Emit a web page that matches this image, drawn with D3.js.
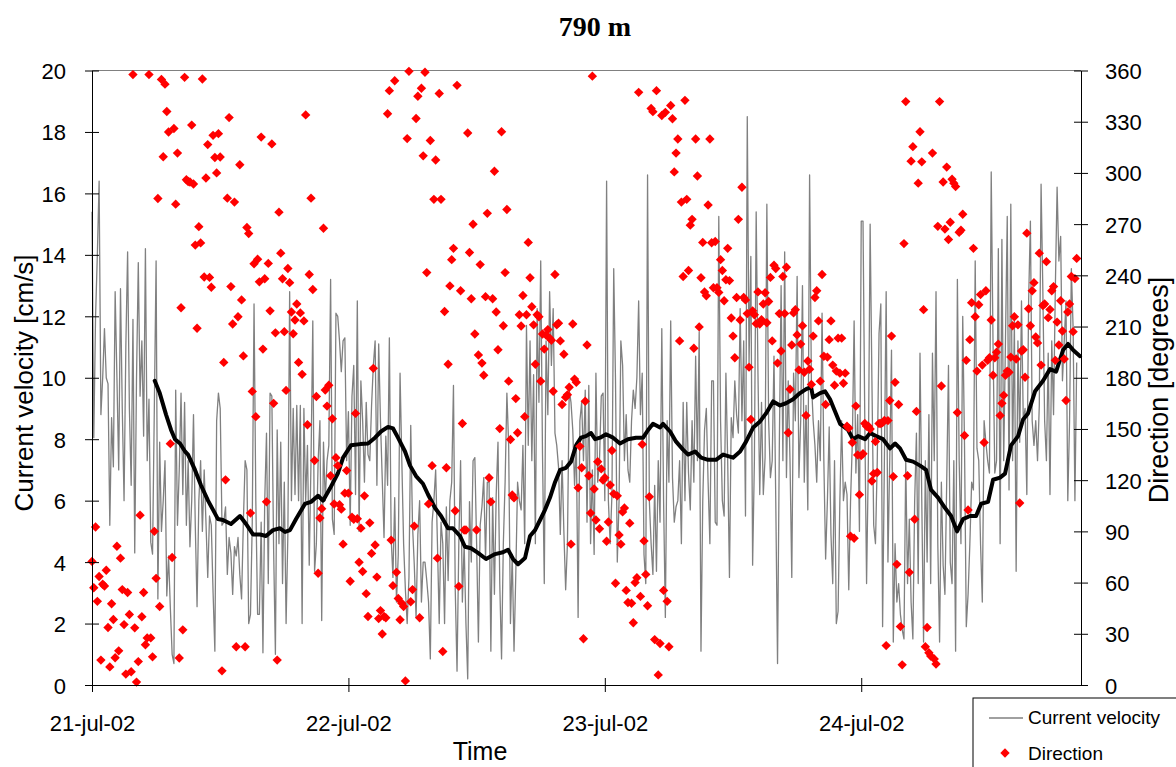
<!DOCTYPE html>
<html><head><meta charset="utf-8">
<script src="https://cdn.jsdelivr.net/npm/d3@7"></script>
<style>body{margin:0;background:#fff;} svg{display:block;}</style>
</head><body>
<svg id="chart" width="1176" height="767"></svg>
<script>
const chartTitle = "790 m";
const startTime = Date.UTC(2002, 6, 21, 0, 0);
const endHours = 92.57;
const stepMinutes = 10;

const velocity = [
15.4,8.05,12,14,16.4,8.8,10,11.6,10,9.8,5.2,8.7,7.1,12.8,10,7.0,12.9,9,6.0,11,14.1,9,6.5,11.9,4.3,10,13.75,9.4,11.2,8.1,14.2,7.3,9.3,4.65,4.26,9,13.8,2.8,7.9,5,6.0,7.3,2.9,4.2,2.5,1.0,0.7,9.6,5.2,7,9.5,6.2,9.2,5.2,7.3,4.5,6,8.8,5.2,2.55,6,7.3,5.0,7,5.3,3.5,5.5,5.2,3,1.1,8.6,
9.5,9.0,5.2,5.3,5.8,3.6,4.8,4.3,2.95,4.5,4.2,4.8,3.6,2.8,5.3,7.3,7.0,2.0,2.3,5.3,12.4,6.0,2.3,2.3,5.3,1.05,6.0,8.2,3.3,9.5,9.4,4.4,1.0,8.3,4.6,7.9,3.3,6.6,2.0,4.9,12.8,6.0,9.0,6.2,9.1,6.0,9.1,2.0,9.0,6.0,7.8,3.9,7.3,11.85,3.7,4.6,7.3,8.6,2.1,7.9,6.0,7.3,7.8,13.2,5.4,4.9,12.1,12.0,11.2,10.2,
11.2,11.3,7.3,8.9,5.2,9.4,10.4,6.2,12.5,5.0,9.9,8.6,6.6,9.2,7.5,7.3,9.1,10.4,11.2,6.5,11.1,8.6,6.7,4.8,8.1,6.5,11.3,4.8,3.5,6.1,2.7,4.25,10.15,7.3,4.6,3.1,2.0,3.5,8.45,5.2,3.9,2.2,4.9,6.0,2.7,4.0,4.0,3.4,2.7,0.85,5.3,6.0,7.0,4.6,2.0,5.3,4.6,2.0,5.8,3.4,6.0,6.6,9.75,3.1,0.45,4.6,7.3,2.7,4.6,2.0,
0.2,5.97,4.0,7.3,7.4,4.6,1.4,5.2,5.8,6.75,4.1,6.6,6.6,1.1,6.1,2.95,6.2,7.9,3.3,0.85,4.6,6.6,9.5,7.8,2.0,4.25,1.1,3.6,6.6,6.0,5.7,7.8,4.6,11.7,7.8,11.2,7.3,10.1,4.6,12.25,9.2,13.8,7.5,3.3,11.2,8.8,12.8,10.4,12.25,8.2,7.8,7.1,4.9,7.3,5.0,3.1,4.6,9.6,9.2,8.3,6.5,7.9,2.2,8.6,9.2,7.3,9.6,5.3,9.75,4.6,
7.0,4.25,10.15,6.6,7.3,9.4,9.5,6.0,16.4,6.0,4.6,6.2,13.55,9.9,4.0,6.0,11.2,10.4,7.3,8.8,7.0,6.6,8.6,9.6,9.0,10.0,12.5,8.8,10.15,4.25,3.3,16.6,6.0,4.6,3.6,6.5,3.7,7.3,5.3,11.6,6.0,2.2,8.6,6.6,11.85,6.75,5.3,5.8,6.0,7.3,4.6,9.2,6.0,9.2,6.9,5.7,8.6,6.6,10.7,7.3,11.5,1.1,6.0,8.3,9.0,6.6,4.6,9.9,9.9,5.3,
5.2,15.25,8.6,6.0,5.5,10.15,7.3,3.5,8.7,8.05,9.9,8.8,8.2,12.25,8.6,11.2,5.5,18.5,10.5,13.95,3.9,7.3,15.4,10.15,6.2,9.2,6.2,7.4,15.65,8.6,6.75,7.3,10.7,6.0,0.7,7.8,13.0,7.3,14.1,6.75,9.9,7.3,3.5,10.15,8.6,13.3,6.75,8.6,13.0,6.6,9.1,5.7,16.6,9.9,8.6,7.8,6.6,8.6,7.3,12.1,7.3,4.1,6.0,8.4,4.9,3.3,7.3,2.0,2.4,6.0,
8.6,6.0,6.6,6.2,3.1,6.0,7.9,11.85,6.9,8.8,5.0,15.1,15.1,8.6,3.3,7.3,15.0,9.9,5.2,4.6,7.3,11.45,12.4,1.9,7.3,12.8,4.0,7.3,10.9,1.4,4.6,2.7,3.3,2.3,1.8,1.5,7.3,3.3,5.4,2.7,1.5,5.97,8.2,3.3,10.8,6.0,1.4,7.3,4.0,8.8,3.3,10.8,7.3,12.8,4.6,1.4,6.6,3.9,2.95,6.6,10.4,4.0,3.3,7.3,1.1,13.2,7.3,4.6,12.0,
7.8,1.9,2.95,4.6,6.6,6.35,13.8,7.7,7.3,4.6,2.7,8.6,7.9,7.3,6.9,16.7,11.2,6.9,7.3,14.2,4.6,14.5,7.3,11.2,15.25,6.35,15.65,7.3,11.85,3.7,11.2,7.9,12.5,8.6,9.0,6.2,12.5,15.1,8.6,7.8,8.6,7.3,9.1,16.3,12.8,8.6,7.3,10.8,6.2,11.2,8.8,12.9,16.2,13.8,14.6,9.9,11.2,12.5,6.0,8.6,13.55,11.6,6.0,10.5
];

const direction = [
72.4,57,92.6,49,63.6,14.6,59,58,67.2,33.7,10.6,47.6,38.4,16,81.3,20,74.3,55.9,35.4,6.4,54.2,41.3,7.8,357.6,33.5,1.7,13.7,99.5,40,54.2,23.6,27.6,357.6,27.6,16.5,90,62.5,285,46,354.8,309.5,352,336,324,141.4,74.7,326,281.7,311.6,15.8,221,32.3,356,296,295,294.7,328,293.5,257.7,209,268.5,259,355,239,297,316.6,238.8,233,322,309,300,
323,309.3,8.3,189,120.2,285.2,332.4,233.4,211.5,282.9,22.4,215.7,304.8,225.6,192.8,22.4,268,264.5,100.7,172,246.8,157.2,249.4,236.2,321,196.8,238,107.3,247,219.2,317,165,206.3,14.6,277,253,238,207,172.6,244,235.7,218.5,205.8,213.8,223.2,189,218,182,213.3,334,152.5,240.5,285.2,231.7,131.5,169,65.5,97.8,103.3,267.6,172.8,163.4,175.6,122.6,156,106,133.2,128.5,105.6,
103,82.5,112.4,125.6,112.4,60.8,98.3,97.1,159.1,97.4,71.9,91.9,66.5,110.8,53.5,40.1,95,77.1,185.5,82,63.2,38.9,43.6,29.9,40.1,39.4,334.7,348.2,84.9,58.2,354,66,50.7,38.2,47.9,46,2.4,320.1,359.5,48.8,55.9,93.1,331.9,344.9,39.4,349.6,310,359,241.6,106.1,319,128.5,284.5,307.6,74.3,346.5,284.5,19.6,218.8,127.3,187.9,233.8,249.2,255.8,102.1,351.3,57.8,231,153.2,90.8,
90.8,323.4,253.4,226.3,269.9,205.6,90.8,193.3,246.3,188.6,181.5,227.5,276.3,121.4,107.3,226.3,301,218.5,196.4,150.2,324.1,210.5,241.6,278.6,178,143.8,111.3,109.6,167.8,147.8,216.9,210.3,228.2,157.2,216.9,259.3,238.6,221.6,211,187.9,216.9,215.7,178,205.6,196.8,205,208.2,203.2,202,172.1,240.5,211,212,201.6,164.3,193.8,168.6,170,174.4,82.5,211.5,179.2,177.3,115.5,139.8,127.3,27.1,166.2,199.2,122.6,
100.7,356.7,114.8,96.7,130.8,91.5,126.6,120,121.4,84.2,95.5,117.2,137.4,112,59.6,110.8,87.9,82.5,101.4,103.7,55.4,48.3,94.8,47.9,36.5,60,62.9,347.2,51.9,141,84.4,64.8,46.4,110.3,337.8,335.9,26.6,348.2,5.9,24.3,333.6,55.4,335.5,49,22.4,339.5,331.7,300.6,311.6,319.9,201.6,282.9,239.3,342.5,284.5,242.8,269.4,272.8,197.3,319.9,298.2,209.8,238.6,259.3,230.3,228,281.2,319.9,259.1,232.7,
259.8,232.7,230,249.2,242.8,225.1,237.4,255.8,236.9,215,204.4,191.7,227,272.8,213.8,291.6,227,225.6,217.6,186.2,155.6,219.2,216.9,211.7,230.3,211.5,214,223.2,229.8,212.2,224.7,238.8,201.6,245.9,244,188.6,217.6,195.7,239.3,217.6,244.7,147.8,173.3,199.2,218,219.9,205.1,184.6,199.7,210.5,183.2,157.9,189.8,185,176.1,204.4,227,231,213.3,178,240.5,192.6,164.3,192.1,202.3,213.3,187.4,175.6,183.9,203.2,182.7,
203.2,176.8,182.7,151.6,150.5,87.2,142.1,86,163.4,134.8,111.5,134.4,135.5,153.2,151.6,151.6,150,119.5,123.8,142.6,124.5,153.2,153.2,153.7,155,23.1,154.9,166.7,204.4,122.1,177.3,70.7,164.3,34.2,11.8,258.6,341.8,122.6,66,306.9,315.4,97.1,160.3,294,324.1,306.5,219.9,22.4,33.7,18.9,17,311.6,15.3,12.3,268.7,341.8,175.2,294.7,267.1,303.4,261,271.1,296.3,294,292,159.6,265.2,266.4,275.8,
146.2,190.2,102.5,202.3,224,255.8,215.7,183.9,222.8,228.7,187.4,142.1,231,190.2,191.7,213.8,181.5,191.7,195,199.7,157.9,165,169.7,181.5,183.9,183.2,192.1,210.5,215.7,191,211,106.6,195.7,196.4,180.3,264.7,220.4,210.5,231,235.7,203.9,200.4,253,187.4,222.3,223.2,248,215.2,220,231,233.4,190.2,212.6,199.2,225.1,207.4,191,166.7,218.5,223.2,239.3,207,238.1,249.9
];

const maHours = [5.87,6.34,6.93,7.40,7.77,8.24,8.71,8.99,9.64,10.20,10.86,11.33,11.79,12.26,13.01,13.85,14.42,15.07,15.73,16.29,16.94,17.60,18.07,18.53,19.10,19.94,20.50,21.16,21.62,22.28,23.03,23.50,24.24,25.09,25.84,26.49,27.05,27.71,28.18,28.64,29.30,29.77,30.33,30.98,31.45,32.11,32.67,33.32,33.79,34.45,34.91,35.48,36.13,36.88,37.73,38.47,38.94,39.41,39.88,40.53,41.00,41.47,41.94,42.40,42.87,43.34,43.81,44.37,44.84,45.31,45.77,46.24,46.71,47.09,47.56,48.11,48.77,49.42,50.17,50.92,51.58,52.05,52.51,53.17,53.45,54.11,54.67,55.32,55.79,56.45,57.01,57.66,58.41,59.07,60.00,60.66,61.22,61.88,62.53,63.09,63.75,64.40,64.96,65.62,66.27,66.84,67.30,67.49,68.15,68.61,69.08,69.55,70.02,70.77,71.23,71.70,72.36,72.83,73.39,74.04,74.70,75.17,75.63,76.20,76.85,77.51,78.07,78.54,79.19,79.85,80.41,80.97,81.53,82.18,82.75,83.22,83.87,84.34,84.99,85.46,86.02,86.68,87.15,87.61,88.27,89.02,89.67,90.24,90.89,91.36,91.83,92.48];
const maVelocity = [9.9,9.5,8.8,8.3,8.0,7.86,7.6,7.5,7.0,6.5,6.0,5.7,5.4,5.37,5.24,5.5,5.24,4.9,4.9,4.85,5.04,5.1,4.98,5.04,5.4,5.9,5.96,6.16,6.0,6.4,6.9,7.4,7.8,7.84,7.86,8.05,8.25,8.4,8.35,8.05,7.6,7.14,6.8,6.55,6.2,5.76,5.5,5.1,5.1,4.85,4.5,4.45,4.3,4.1,4.26,4.32,4.4,4.1,3.93,4.13,4.85,5.04,5.37,5.7,6.1,6.6,7.0,7.07,7.27,7.8,8.05,8.1,8.2,8.0,8.05,8.16,8.05,7.86,8.0,8.05,8.05,8.3,8.5,8.38,8.5,8.25,7.92,7.66,7.5,7.6,7.4,7.33,7.33,7.5,7.4,7.6,7.92,8.38,8.58,8.84,9.23,9.1,9.17,9.3,9.5,9.63,9.7,9.36,9.5,9.56,9.3,8.9,8.5,8.3,8.0,8.1,8.0,8.2,8.1,8.0,7.7,7.86,7.7,7.33,7.27,7.14,7.0,6.35,6.1,5.76,5.5,5.0,5.4,5.5,5.5,5.9,5.96,6.68,6.75,6.88,7.8,8.1,8.64,8.84,9.56,9.9,10.28,10.2,10.9,11.1,10.9,10.7];

const velocityTicks = [0,2,4,6,8,10,12,14,16,18,20];
const directionTicks = [0,30,60,90,120,150,180,210,240,270,300,330,360];
const dateTicks = [Date.UTC(2002,6,21), Date.UTC(2002,6,22), Date.UTC(2002,6,23), Date.UTC(2002,6,24)];
const dateLabels = ["21-jul-02","22-jul-02","23-jul-02","24-jul-02"];
const legendLabels = ["Current velocity","Direction"];
const axisTitles = {x: "Time", left: "Current velocity [cm/s]", right: "Direction [degrees]"};

const SANS = "'Liberation Sans', Arial, Helvetica, sans-serif";
const SERIF = "'Liberation Serif', 'Times New Roman', serif";
const plot = {left: 92, right: 1081, top: 70.5, bottom: 685};

const svg = d3.select("#chart");
const x = d3.scaleUtc()
  .domain([new Date(startTime), new Date(startTime + endHours * 3600e3)])
  .range([plot.left, plot.right]);
const yV = d3.scaleLinear().domain([0, 20]).range([plot.bottom, plot.top]);
const yD = d3.scaleLinear().domain([0, 360]).range([plot.bottom, plot.top]);

const tOf = i => new Date(startTime + i * stepMinutes * 60e3);

svg.append("line")
  .attr("x1", plot.left).attr("x2", plot.right)
  .attr("y1", plot.top).attr("y2", plot.top)
  .attr("stroke", "#808080").attr("stroke-width", 1);

svg.append("path")
  .datum(velocity)
  .attr("fill", "none")
  .attr("stroke", "#808080")
  .attr("stroke-width", 1.3)
  .attr("stroke-linejoin", "round")
  .attr("d", d3.line().x((d, i) => x(tOf(i))).y(d => yV(d)));

svg.append("path")
  .datum(maHours.map((h, i) => [h, maVelocity[i]]))
  .attr("fill", "none")
  .attr("stroke", "#000")
  .attr("stroke-width", 4)
  .attr("stroke-linejoin", "round")
  .attr("stroke-linecap", "round")
  .attr("d", d3.line().x(d => x(new Date(startTime + d[0] * 3600e3))).y(d => yV(d[1])));

const diamond = d3.symbol().type(d3.symbolSquare).size(44);
svg.append("g").selectAll("path")
  .data(direction)
  .join("path")
  .attr("d", diamond)
  .attr("fill", "#ff0000")
  .attr("transform", (d, i) => `translate(${x(tOf(i))},${yD(d)}) rotate(45)`);

function styleAxis(g) {
  g.attr("font-family", SANS).attr("font-size", 22);
  g.selectAll(".domain").attr("stroke", "#000");
  g.selectAll(".tick line").attr("stroke", "#000");
  g.selectAll(".tick text").attr("fill", "#000");
}

const gL = svg.append("g").attr("transform", `translate(${plot.left},0)`)
  .call(d3.axisLeft(yV).tickValues(velocityTicks).tickSizeOuter(0).tickSizeInner(7).tickPadding(19));
styleAxis(gL);
gL.selectAll(".tick line").attr("x1", -7).attr("x2", 7);
gL.selectAll(".tick text").attr("dy", null).attr("y", 8);

const gR = svg.append("g").attr("transform", `translate(${plot.right},0)`)
  .call(d3.axisRight(yD).tickValues(directionTicks).tickSizeOuter(0).tickSizeInner(7).tickPadding(17));
styleAxis(gR);
gR.selectAll(".tick line").attr("x1", -7).attr("x2", 7);
gR.selectAll(".tick text").attr("dy", null).attr("y", 8);

const gB = svg.append("g").attr("transform", `translate(0,${plot.bottom})`)
  .call(d3.axisBottom(x).tickValues(dateTicks.map(d => new Date(d)))
    .tickFormat((d, i) => dateLabels[i]).tickSizeOuter(0).tickSizeInner(7));
styleAxis(gB);
gB.selectAll(".tick line").attr("y1", -7).attr("y2", 7);
gB.selectAll(".tick text").attr("dy", null).attr("y", 46);

svg.append("text").attr("x", 595).attr("y", 36)
  .attr("text-anchor", "middle").attr("font-family", SERIF)
  .attr("font-weight", "bold").attr("font-size", 28).text(chartTitle);

svg.append("text").attr("x", 480).attr("y", 760)
  .attr("text-anchor", "middle").attr("font-family", SANS)
  .attr("font-size", 25).text(axisTitles.x);

svg.append("text").attr("transform", "translate(33,383) rotate(-90)")
  .attr("text-anchor", "middle").attr("font-family", SANS)
  .attr("font-size", 26).text(axisTitles.left);

svg.append("text").attr("transform", "translate(1168,390) rotate(-90)")
  .attr("text-anchor", "middle").attr("font-family", SANS)
  .attr("font-size", 27).text(axisTitles.right);

const lg = svg.append("g");
lg.append("rect").attr("x", 973).attr("y", 698).attr("width", 260).attr("height", 100)
  .attr("fill", "#fff").attr("stroke", "#000").attr("stroke-width", 1);
lg.append("line").attr("x1", 989).attr("x2", 1023).attr("y1", 718).attr("y2", 718)
  .attr("stroke", "#808080").attr("stroke-width", 1.3);
lg.append("text").attr("x", 1028).attr("y", 724).attr("font-family", SANS)
  .attr("font-size", 19).text(legendLabels[0]);
lg.append("path").attr("d", diamond).attr("fill", "#ff0000")
  .attr("transform", "translate(1005,753) rotate(45)");
lg.append("text").attr("x", 1028).attr("y", 760).attr("font-family", SANS)
  .attr("font-size", 19).text(legendLabels[1]);
</script>
</body></html>
